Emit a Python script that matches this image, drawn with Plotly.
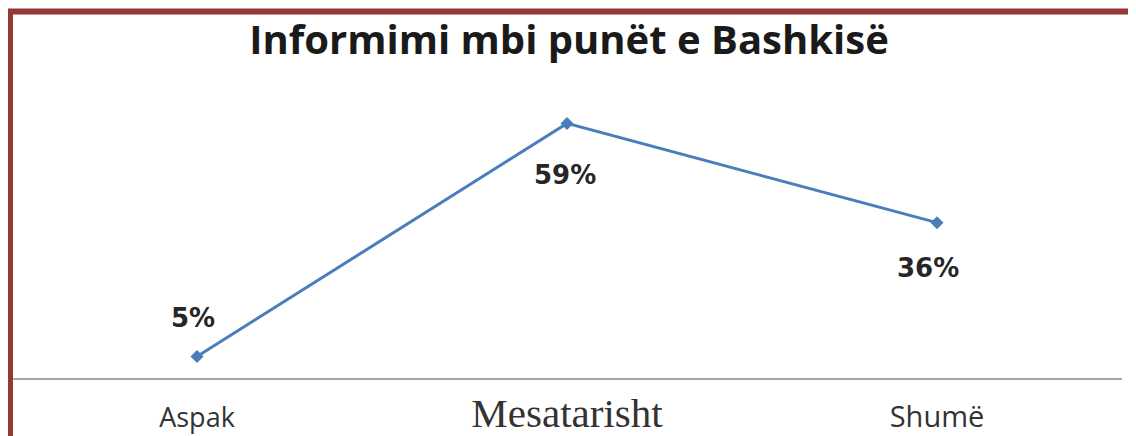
import plotly.graph_objects as go

# ---- data ----
categories = ["Aspak", "Mesatarisht", "Shumë"]
values = [5, 59, 36]
value_labels = ["5%", "59%", "36%"]
title_text = "Informimi mbi punët e Bashkisë"

# ---- layout constants (pixels, in page coordinates) ----
OFF = 8  # default body margin of the html page
W, H = 1136, 436
PLOT_LEFT, PLOT_RIGHT, PLOT_TOP, AXIS_Y = 12, 1122, 60, 378
L = PLOT_LEFT - OFF
R = W - (PLOT_RIGHT - OFF)
T = PLOT_TOP - OFF
B = H - (AXIS_Y - OFF)
PW, PH = W - L - R, H - T - B
px_per_pct = 4.315
y_max = PH / px_per_pct

def px_x(p):
    return (p - OFF - L) / PW

def px_y(p):
    return (H - B - (p - OFF)) / PH

# tick label styles (each label in the reference has its own font)
tick_styles = [
    "font-family:'Open Sans';font-size:27px;",
    "font-family:'Liberation Serif';font-size:41px;",
    "font-family:'Open Sans';font-size:29px;",
]
ticktext = [f"<span style=\"{s}\">{c}</span>" for s, c in zip(tick_styles, categories)]

# data label offsets (style)
label_yshift = [38, -52, -45]
label_xshift = [-4, -2, -9]

fig = go.Figure()
fig.add_trace(go.Scatter(
    x=categories, y=values, mode="lines+markers",
    line=dict(color="#4A7EBB", width=3),
    marker=dict(symbol="diamond", size=10, color="#4A7EBB"),
    hoverinfo="skip", showlegend=False,
))

for c, v, t, ys, xs in zip(categories, values, value_labels, label_yshift, label_xshift):
    fig.add_annotation(
        x=c, y=v, xref="x", yref="y", text=t, showarrow=False,
        yshift=ys, xshift=xs,
        font=dict(family="DejaVu Sans", size=26, color="#262626", weight="bold"),
    )

# frame (dark red)
border = "#953735"
fig.add_shape(type="line", xref="paper", yref="paper",
              x0=px_x(8), x1=px_x(W + 20), y0=px_y(11.5), y1=px_y(11.5),
              line=dict(color=border, width=6))
fig.add_shape(type="line", xref="paper", yref="paper",
              x0=px_x(10.5), x1=px_x(10.5), y0=px_y(9), y1=px_y(H + 20),
              line=dict(color=border, width=5))

fig.update_layout(
    width=W, height=H,
    margin=dict(l=L, r=R, t=T, b=B, pad=0),
    paper_bgcolor="white", plot_bgcolor="white",
    title=dict(
        text=title_text, x=(569 - OFF) / W, xanchor="center",
        y=1 - (40 - OFF) / H, yanchor="middle", yref="container",
        font=dict(family="Open Sans", size=40, color="#1a1a1a", weight="bold"),
    ),
    xaxis=dict(
        type="category", range=[-0.5, 2.5],
        tickvals=categories, ticktext=ticktext,
        showline=True, linecolor="#A6A6A6", linewidth=2,
        showgrid=False, zeroline=False, ticks="", ticklen=0,
        ticklabelstandoff=15,
        tickfont=dict(family="Open Sans", color="#333333", size=27),
        fixedrange=True,
    ),
    yaxis=dict(
        range=[0, y_max], visible=False, showgrid=False, zeroline=False,
        fixedrange=True,
    ),
)

fig.write_html("out.html")
